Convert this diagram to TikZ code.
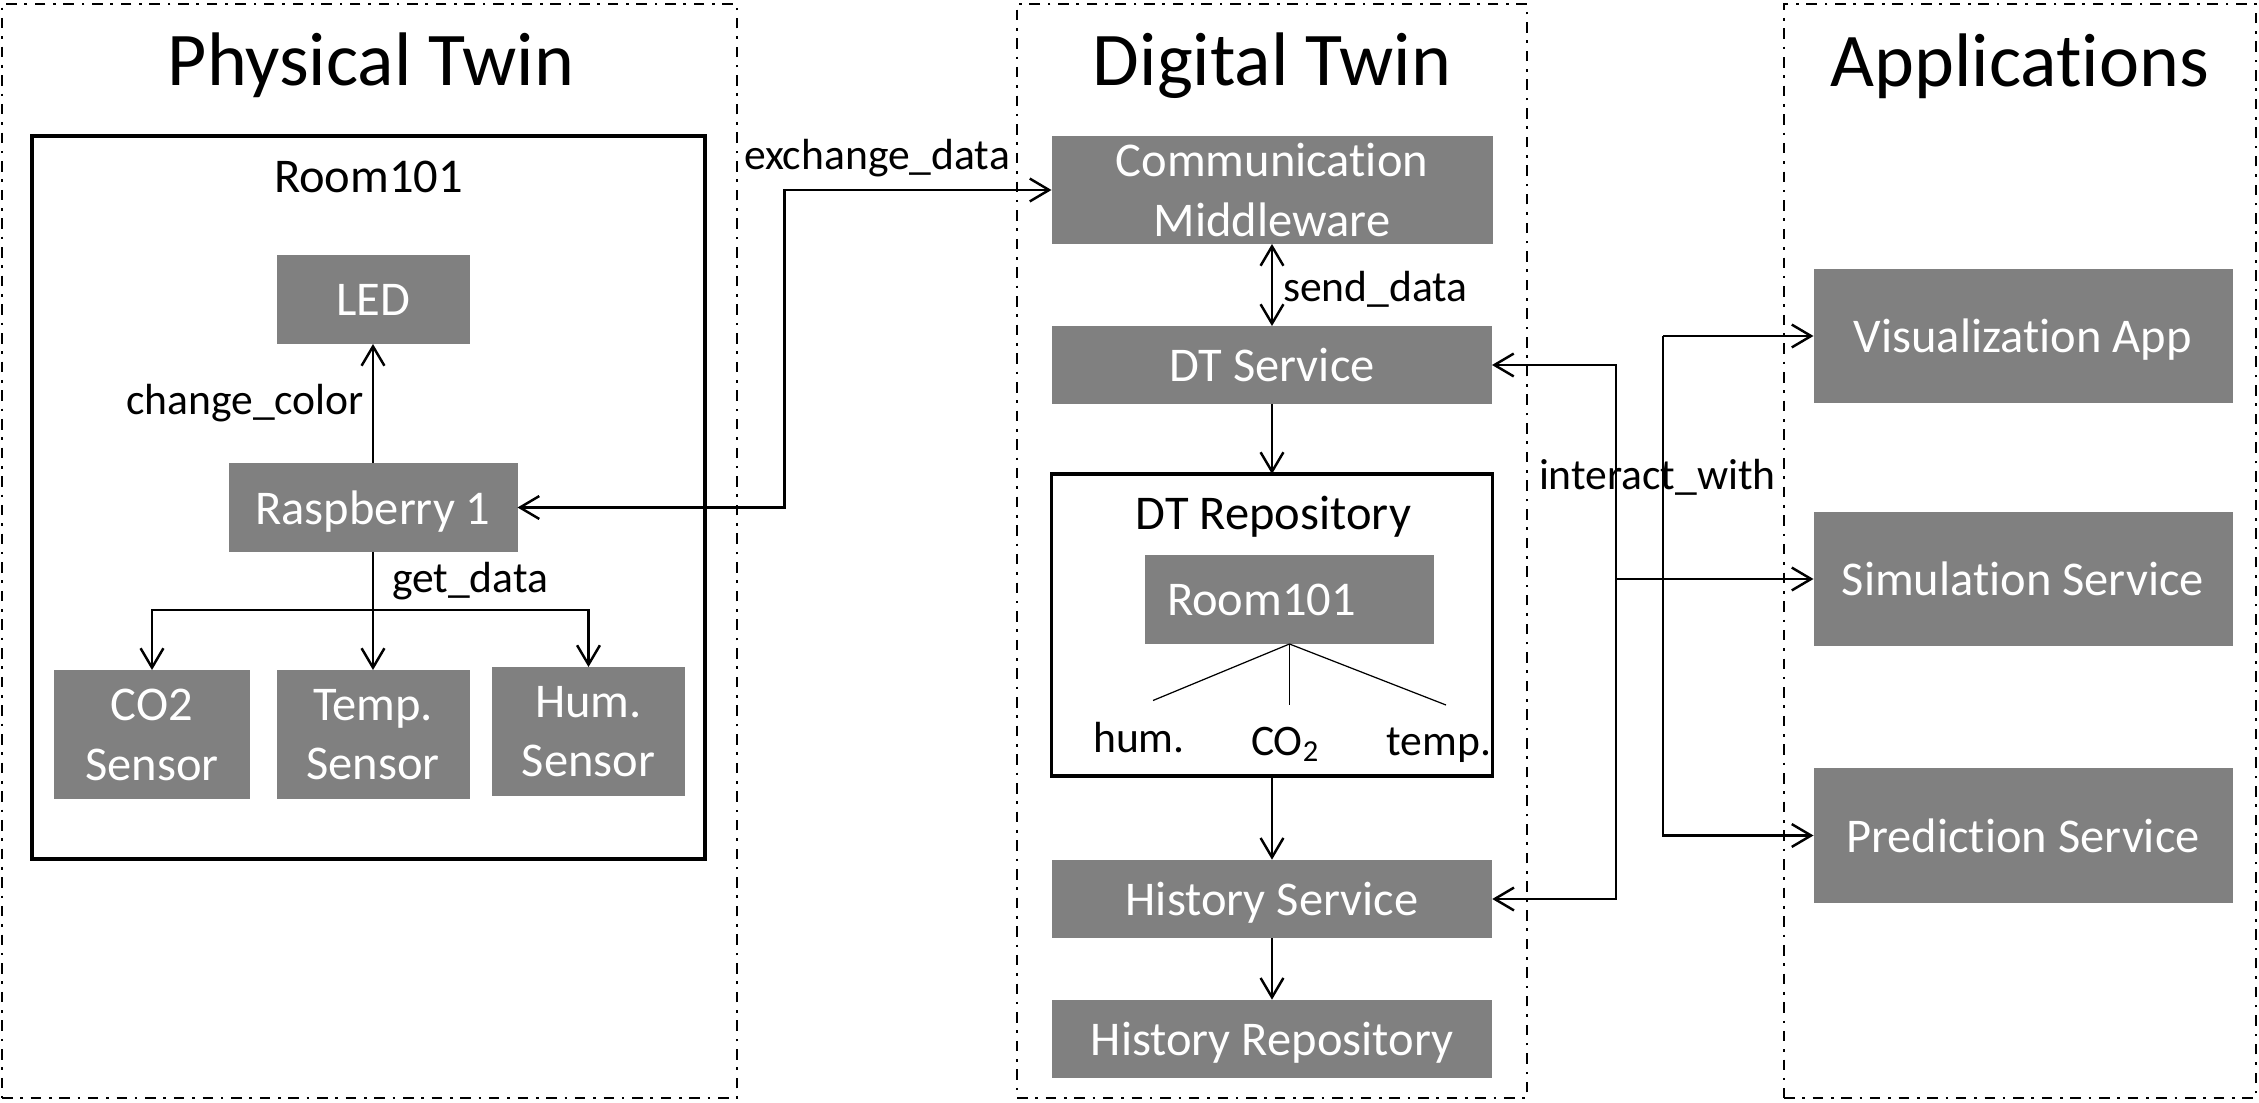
\documentclass[tikz,border=0pt]{standalone}
\usepackage{fontspec}
\setmainfont[Ligatures=NoCommon]{Carlito}
\usetikzlibrary{arrows.meta}
\definecolor{boxgray}{HTML}{808080}
\begin{document}
\begin{tikzpicture}[inner sep=0pt,outer sep=0pt,line width=0.7pt,
>={Straight Barb[length=5.5pt,width=6.5pt]},
frame/.style={draw,rectangle,line width=0.75pt,dash pattern=on 3pt off 2.2pt on 0.75pt off 2.2pt},
grouptitle/.style={font=\fontsize{21.6}{26}\selectfont,anchor=base},
room/.style={draw,rectangle,line width=0.9pt},
block/.style={rectangle,fill=boxgray,text=white,align=center,text depth=0pt,font=\fontsize{13.8}{17}\selectfont},
roomname/.style={font=\fontsize{13.8}{17}\selectfont,anchor=base},
lbl/.style={font=\fontsize{12.4}{15}\selectfont}]
\useasboundingbox (0,0) rectangle (22.59,-11.03);
% three groups
\draw (3.695,-5.51) node[frame,minimum width=7.35cm,minimum height=10.94cm] (phys) {};
\draw (12.72,-5.51) node[frame,minimum width=5.10cm,minimum height=10.94cm] (digi) {};
\draw (20.20,-5.51) node[frame,minimum width=4.72cm,minimum height=10.94cm] (apps) {};
\draw (3.71,-0.86) node[grouptitle] (physt) {Physical Twin};
\draw (12.72,-0.86) node[grouptitle] (digit) {Digital Twin};
\draw (20.20,-0.87) node[grouptitle] (appst) {Applications};
% physical twin
\draw (3.685,-4.975) node[room,minimum width=6.73cm,minimum height=7.23cm] (room) {};
\draw (3.685,-1.93) node[roomname] (roomt) {Room101};
\draw (3.73,-2.995) node[block,minimum width=1.93cm,minimum height=0.89cm] (led) {LED};
\draw (3.73,-5.075) node[block,minimum width=2.89cm,minimum height=0.89cm] (rasp) {Raspberry 1};
\draw (1.52,-7.345) node[block,minimum width=1.96cm,minimum height=1.29cm] (co2) {CO2\\Sensor};
\draw (3.73,-7.345) node[block,minimum width=1.93cm,minimum height=1.29cm] (temp) {Temp.\\Sensor};
\draw (5.885,-7.315) node[block,minimum width=1.93cm,minimum height=1.29cm] (hum) {Hum.\\Sensor};
\draw[->] (rasp) -- (led) node[lbl,midway,left=0.09cm] (chg) {change\_color};
\coordinate (fork) at (3.73,-6.10);
\draw (rasp) -- (fork) node[lbl,midway,right=0.19cm] (getd) {get\_data};
\draw[->] (fork) -- (temp);
\draw[->] (fork) -| (co2);
\draw[->] (fork) -| (hum);
% digital twin
\draw (12.72,-1.90) node[block,minimum width=4.41cm,minimum height=1.08cm] (cm) {Communication\\Middleware};
\draw (12.72,-3.65) node[block,minimum width=4.40cm,minimum height=0.78cm] (dts) {DT Service};
\draw (12.72,-6.25) node[room,minimum width=4.405cm,minimum height=3.02cm] (dtrep) {};
\draw (12.735,-5.30) node[roomname] (dtrept) {DT Repository};
\draw (12.895,-5.995) node[block,minimum width=2.89cm,minimum height=0.89cm,text width=2.45cm,align=left] (twin) {Room101};
\draw (12.72,-8.99) node[block,minimum width=4.405cm,minimum height=0.786cm] (hs) {History Service};
\draw (12.72,-10.39) node[block,minimum width=4.40cm,minimum height=0.786cm] (hr) {History Repository};
\coordinate (thum) at (11.53,-7.005);
\coordinate (tco) at (12.895,-7.05);
\coordinate (ttemp) at (14.46,-7.05);
\draw[line width=0.35pt] (twin.south) -- (thum);
\draw[line width=0.35pt] (twin.south) -- (tco);
\draw[line width=0.35pt] (twin.south) -- (ttemp);
\draw (11.39,-7.52) node[lbl,anchor=base] (lhum) {hum.};
\draw (12.855,-7.55) node[lbl,anchor=base] (lco) {CO\textsubscript{2}};
\draw (14.39,-7.55) node[lbl,anchor=base] (ltemp) {temp.};
\draw[<->] (cm) -- (dts);
\draw (12.83,-3.02) node[lbl,anchor=base west] (sendd) {send\_data};
\draw[->] (dts) -- (dtrep);
\draw[->] (dtrep) -- (hs);
\draw[->] (hs) -- (hr);
\draw[<->] (rasp.east) -- ++(2.67,0) |- (cm.west);
\draw (7.44,-1.70) node[lbl,anchor=base west] (exd) {exchange\_data};
% applications
\draw (20.23,-3.36) node[block,minimum width=4.19cm,minimum height=1.34cm] (vis) {Visualization App};
\draw (20.23,-5.79) node[block,minimum width=4.19cm,minimum height=1.34cm] (sim) {Simulation Service};
\draw (20.23,-8.355) node[block,minimum width=4.19cm,minimum height=1.35cm] (pred) {Prediction Service};
\coordinate (busa) at (16.16,-3.65);
\coordinate (busb) at (16.63,-3.36);
\draw[<->] (dts.east) -- (busa) |- (hs.east);
\draw[->] (busa |- sim.west) -- (sim.west);
\draw[->] (busb) -- (vis.west);
\draw[->] (busb) |- (pred.west);
\draw (15.39,-4.90) node[lbl,anchor=base west] (intw) {interact\_with};
\end{tikzpicture}
\end{document}
